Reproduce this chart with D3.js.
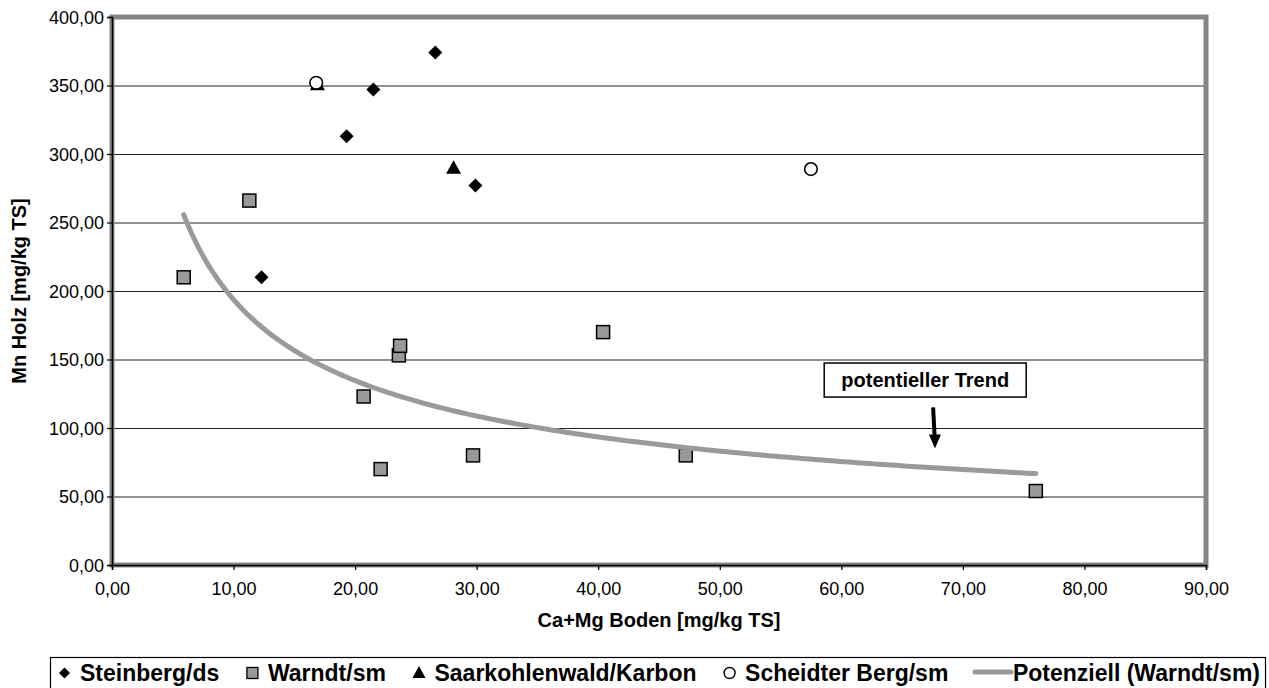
<!DOCTYPE html>
<html>
<head>
<meta charset="utf-8">
<script src="https://cdn.jsdelivr.net/npm/d3@7"></script>
<style>
  html, body { margin: 0; padding: 0; background: #fff; }
  svg { display: block; font-family: "Liberation Sans", Arial, sans-serif; }
</style>
</head>
<body>
<svg id="chart" width="1269" height="688"></svg>
<script>
// ---- data ----
const steinbergX = [12.3, 19.3, 21.5, 26.6, 29.9];
const steinbergY = [210, 313, 347, 374, 277];
const warndtX = [5.9, 11.3, 20.7, 22.1, 23.6, 23.7, 29.7, 40.4, 47.2, 76.0];
const warndtY = [210, 266, 123, 70, 153, 160, 80, 170, 80, 54];
const saarX = [16.9, 28.1];
const saarY = [351, 290];
const scheidterX = [16.8, 57.5];
const scheidterY = [352, 289];
const xTicks = [0, 10, 20, 30, 40, 50, 60, 70, 80, 90];
const yTicks = [0, 50, 100, 150, 200, 250, 300, 350, 400];
const seriesNames = ["Steinberg/ds", "Warndt/sm", "Saarkohlenwald/Karbon", "Scheidter Berg/sm", "Potenziell (Warndt/sm)"];
const xTitle = "Ca+Mg Boden [mg/kg TS]";
const yTitle = "Mn Holz [mg/kg TS]";
const annotationText = "potentieller Trend";

const fmt = v => d3.format(".2f")(v).replace(".", ",");

const svg = d3.select("#chart");
const L = 112, R = 1206, T = 17, B = 565;
const x = d3.scaleLinear().domain([0, 90]).range([L, R]);
const y = d3.scaleLinear().domain([0, 400]).range([B, T]);

// gridlines
svg.append("g").selectAll("line").data(yTicks.filter(t => t > 0 && t < 400)).join("line")
  .attr("x1", L).attr("x2", R).attr("y1", d => y(d) + 0.5).attr("y2", d => y(d) + 0.5)
  .attr("stroke", "#222").attr("stroke-width", 1);

// plot frame
svg.append("rect").attr("x", L).attr("y", T).attr("width", R - L).attr("height", B - T)
  .attr("fill", "none").attr("stroke", "#858585").attr("stroke-width", 5);

// axes
const xAxis = d3.axisBottom(x).tickValues(xTicks).tickFormat(fmt).tickSize(5).tickPadding(12);
const gx = svg.append("g").attr("transform", `translate(0,${B})`).call(xAxis);
gx.select(".domain").attr("stroke", "#000").attr("stroke-width", 1.5);
gx.selectAll(".tick line").attr("stroke", "#000").attr("stroke-width", 1.2);
gx.selectAll("text").attr("font-size", 18).attr("fill", "#000").attr("font-family", "Liberation Sans, Arial, sans-serif");

const yAxis = d3.axisLeft(y).tickValues(yTicks).tickFormat(fmt).tickSize(5).tickPadding(3);
const gy = svg.append("g").attr("transform", `translate(${L},0)`).call(yAxis);
gy.select(".domain").attr("stroke", "#000").attr("stroke-width", 1.5);
gy.selectAll(".tick line").attr("stroke", "#000").attr("stroke-width", 1.2);
gy.selectAll("text").attr("font-size", 18).attr("fill", "#000").attr("dy", "0.35em").attr("font-family", "Liberation Sans, Arial, sans-serif");

// axis titles
svg.append("text").attr("x", (L + R) / 2).attr("y", 627).attr("text-anchor", "middle")
  .attr("font-size", 20).attr("font-weight", "bold").text(xTitle);
svg.append("text").attr("transform", `translate(26,${(T + B) / 2}) rotate(-90)`).attr("text-anchor", "middle")
  .attr("font-size", 20).attr("font-weight", "bold").text(yTitle);

// symbols
function drawSeries(xs, ys, kind) {
  const data = xs.map((v, i) => [v, ys[i]]);
  const g = svg.append("g");
  if (kind === "diamond") {
    g.selectAll("path").data(data).join("path")
      .attr("d", d3.symbol().type(d3.symbolSquare).size(98)())
      .attr("transform", d => `translate(${x(d[0])},${y(d[1])}) rotate(45)`)
      .attr("fill", "#000");
  } else if (kind === "square") {
    g.selectAll("rect").data(data).join("rect")
      .attr("x", d => x(d[0]) - 6.5).attr("y", d => y(d[1]) - 6.5)
      .attr("width", 13).attr("height", 13)
      .attr("fill", "#999").attr("stroke", "#000").attr("stroke-width", 1.5);
  } else if (kind === "triangle") {
    g.selectAll("path").data(data).join("path")
      .attr("d", d => `M${x(d[0])},${y(d[1]) - 7.5}L${x(d[0]) + 7.5},${y(d[1]) + 6}L${x(d[0]) - 7.5},${y(d[1]) + 6}Z`)
      .attr("fill", "#000");
  } else if (kind === "circle") {
    g.selectAll("circle").data(data).join("circle")
      .attr("cx", d => x(d[0])).attr("cy", d => y(d[1])).attr("r", 6.3)
      .attr("fill", "#fff").attr("stroke", "#000").attr("stroke-width", 1.6);
  }
}
drawSeries(steinbergX, steinbergY, "diamond");
drawSeries(warndtX, warndtY, "square");
drawSeries(saarX, saarY, "triangle");
drawSeries(scheidterX, scheidterY, "circle");

// power trendline (least squares in log-log space) for Warndt/sm
const lx = warndtX.map(Math.log), lyv = warndtY.map(Math.log);
const mx = d3.mean(lx), my = d3.mean(lyv);
const b = d3.sum(lx.map((v, i) => (v - mx) * (lyv[i] - my))) / d3.sum(lx.map(v => (v - mx) ** 2));
const a = Math.exp(my - b * mx);
const [xmin, xmax] = d3.extent(warndtX);
const trendPts = d3.range(0, 201).map(i => { const xv = xmin + (xmax - xmin) * i / 200; return [xv, a * Math.pow(xv, b)]; });
svg.append("path").datum(trendPts)
  .attr("d", d3.line().x(d => x(d[0])).y(d => y(d[1])))
  .attr("fill", "none").attr("stroke", "#9a9a9a").attr("stroke-width", 5).attr("stroke-linecap", "round");

// annotation
const annX = 66.9, annY = 135;
const annG = svg.append("g");
annG.append("rect").attr("x", x(annX) - 101).attr("y", y(annY) - 17).attr("width", 202).attr("height", 34)
  .attr("fill", "#fff").attr("stroke", "#000").attr("stroke-width", 1.5);
annG.append("text").attr("x", x(annX)).attr("y", y(annY) + 7).attr("text-anchor", "middle")
  .attr("font-size", 20).attr("font-weight", "bold").text(annotationText);
const arrowTop = [67.55, 115], arrowTip = [67.7, 85];
svg.append("line").attr("x1", x(arrowTop[0])).attr("y1", y(arrowTop[1]))
  .attr("x2", x(arrowTip[0]) - 0.3).attr("y2", y(arrowTip[1]) - 12)
  .attr("stroke", "#000").attr("stroke-width", 4);
svg.append("path")
  .attr("d", `M${x(arrowTip[0])},${y(arrowTip[1])}L${x(arrowTip[0]) - 6},${y(arrowTip[1]) - 14}L${x(arrowTip[0]) + 6},${y(arrowTip[1]) - 14}Z`)
  .attr("fill", "#000");

// legend
const lg = svg.append("g");
lg.append("rect").attr("x", 50.5).attr("y", 657.5).attr("width", 1215).attr("height", 60)
  .attr("fill", "#fff").attr("stroke", "#000").attr("stroke-width", 1.2);
const kinds = ["diamond", "square", "triangle", "circle", "line"];
const lfs = 23, ly0 = 673;
const tmp = lg.append("g");
const widths = seriesNames.map(n => { const t = tmp.append("text").attr("font-size", lfs).attr("font-weight", "bold").text(n); const w = t.node().getComputedTextLength(); t.remove(); return w; });
const markW = kinds.map(k => k === "line" ? 36 : 13);
const markGap = kinds.map(k => k === "line" ? 2 : 9);
const start = 58, end = 1260;
const total = d3.sum(widths) + d3.sum(markW) + d3.sum(markGap);
const gap = (end - start - total) / (seriesNames.length - 1);
let cx = start;
seriesNames.forEach((n, i) => {
  const k = kinds[i];
  const mc = cx + markW[i] / 2;
  if (k === "diamond") {
    lg.append("path").attr("d", d3.symbol().type(d3.symbolSquare).size(60)()).attr("transform", `translate(${mc},${ly0}) rotate(45)`).attr("fill", "#000");
  } else if (k === "square") {
    lg.append("rect").attr("x", mc - 5.5).attr("y", ly0 - 5.5).attr("width", 11).attr("height", 11).attr("fill", "#999").attr("stroke", "#000").attr("stroke-width", 1.3);
  } else if (k === "triangle") {
    lg.append("path").attr("d", `M${mc},${ly0 - 7}L${mc + 6.5},${ly0 + 5}L${mc - 6.5},${ly0 + 5}Z`).attr("fill", "#000");
  } else if (k === "circle") {
    lg.append("circle").attr("cx", mc).attr("cy", ly0).attr("r", 5.5).attr("fill", "#fff").attr("stroke", "#000").attr("stroke-width", 1.4);
  } else {
    lg.append("line").attr("x1", cx).attr("x2", cx + markW[i]).attr("y1", ly0 - 1).attr("y2", ly0 - 1).attr("stroke", "#9a9a9a").attr("stroke-width", 5).attr("stroke-linecap", "round");
  }
  lg.append("text").attr("x", cx + markW[i] + markGap[i]).attr("y", ly0 + 8).attr("font-size", lfs).attr("font-weight", "bold").text(n);
  cx += markW[i] + markGap[i] + widths[i] + gap;
});
</script>
</body>
</html>
